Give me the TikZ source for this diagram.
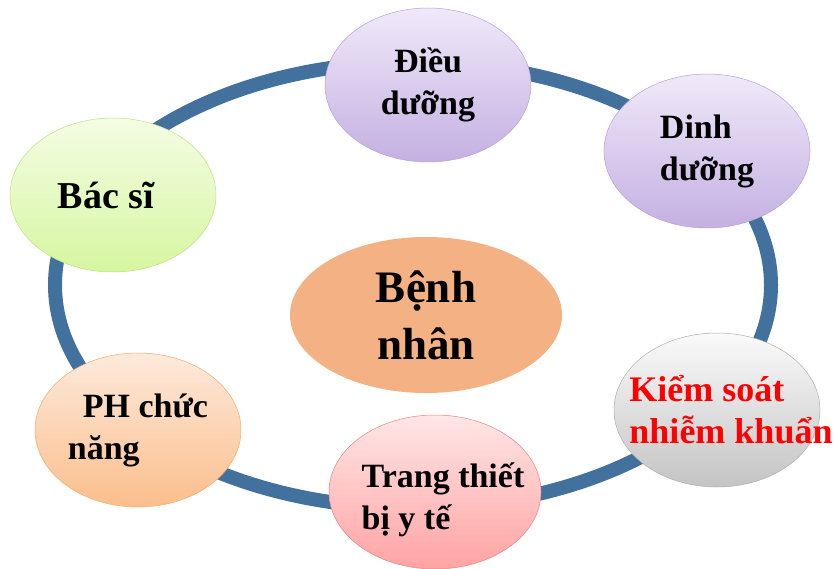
\documentclass[tikz,border=0pt]{standalone}
\usepackage{fontspec}
\setmainfont{Liberation Serif}
\usepackage{tikz}
\usetikzlibrary{shapes.geometric,positioning}

\definecolor{ringblue}{RGB}{65,113,156}
\definecolor{lavtop}{RGB}{240,233,249}
\definecolor{lavbot}{RGB}{196,176,226}
\definecolor{lavline}{RGB}{185,160,215}
\definecolor{greentop}{RGB}{244,253,228}
\definecolor{greenbot}{RGB}{214,246,160}
\definecolor{greenline}{RGB}{190,225,130}
\definecolor{peachtop}{RGB}{253,234,220}
\definecolor{peachbot}{RGB}{251,190,140}
\definecolor{peachline}{RGB}{245,170,110}
\definecolor{pinktop}{RGB}{255,230,230}
\definecolor{pinkbot}{RGB}{255,163,163}
\definecolor{pinkline}{RGB}{235,130,130}
\definecolor{greytop}{RGB}{250,250,250}
\definecolor{greybot}{RGB}{196,196,196}
\definecolor{greyline}{RGB}{175,175,175}
\definecolor{salmon}{RGB}{244,177,131}

\begin{document}
\begin{tikzpicture}[x=1pt, y=-1pt, font=\bfseries\fontsize{34}{42}\selectfont]
\tikzstyle{bubble}=[ellipse, minimum width=206pt, minimum height=154pt, inner sep=0pt, line width=0.5pt]
\tikzstyle{ringline}=[ellipse, draw=ringblue, line width=14pt, minimum width=716pt, minimum height=446pt]
\useasboundingbox (0,0) rectangle (834,569);
\node[ringline] (R) at (413,285) {};
\node[bubble, top color=lavtop, bottom color=lavbot, draw=lavline, align=center] (DD) at (428,85) {Điều\\dưỡng};
\node[bubble, top color=lavtop, bottom color=lavbot, draw=lavline, align=left] (DN) at (707,151) {Dinh\\dưỡng};
\node[bubble, top color=greentop, bottom color=greenbot, draw=greenline, font=\bfseries\fontsize{38}{46}\selectfont] (BS) at (113,195) {\hspace*{-14pt}Bác sĩ};
\node[bubble, fill=salmon, minimum width=272pt, minimum height=156pt, align=center, font=\bfseries\fontsize{45}{57}\selectfont] (BN) at (426,315) {Bệnh\\nhân};
\node[bubble, top color=greytop, bottom color=greybot, draw=greyline] (KS) at (717,410) {};
\node[text=red, align=left, font=\bfseries\fontsize{36}{42}\selectfont] (KSt) at ([xshift=14pt]KS.center) {Kiểm soát\\nhiễm khuẩn};
\node[bubble, top color=peachtop, bottom color=peachbot, draw=peachline, align=left] (PH) at (138,430) {\hspace*{15pt}PH chức\\năng};
\node[bubble, top color=pinktop, bottom color=pinkbot, draw=pinkline, minimum width=212pt] (TB) at (435,492) {};
\node[align=left] (TBt) at ([xshift=8pt, yshift=-8pt]TB.center) {Trang thiết\\bị y tế};
\end{tikzpicture}
\end{document}
